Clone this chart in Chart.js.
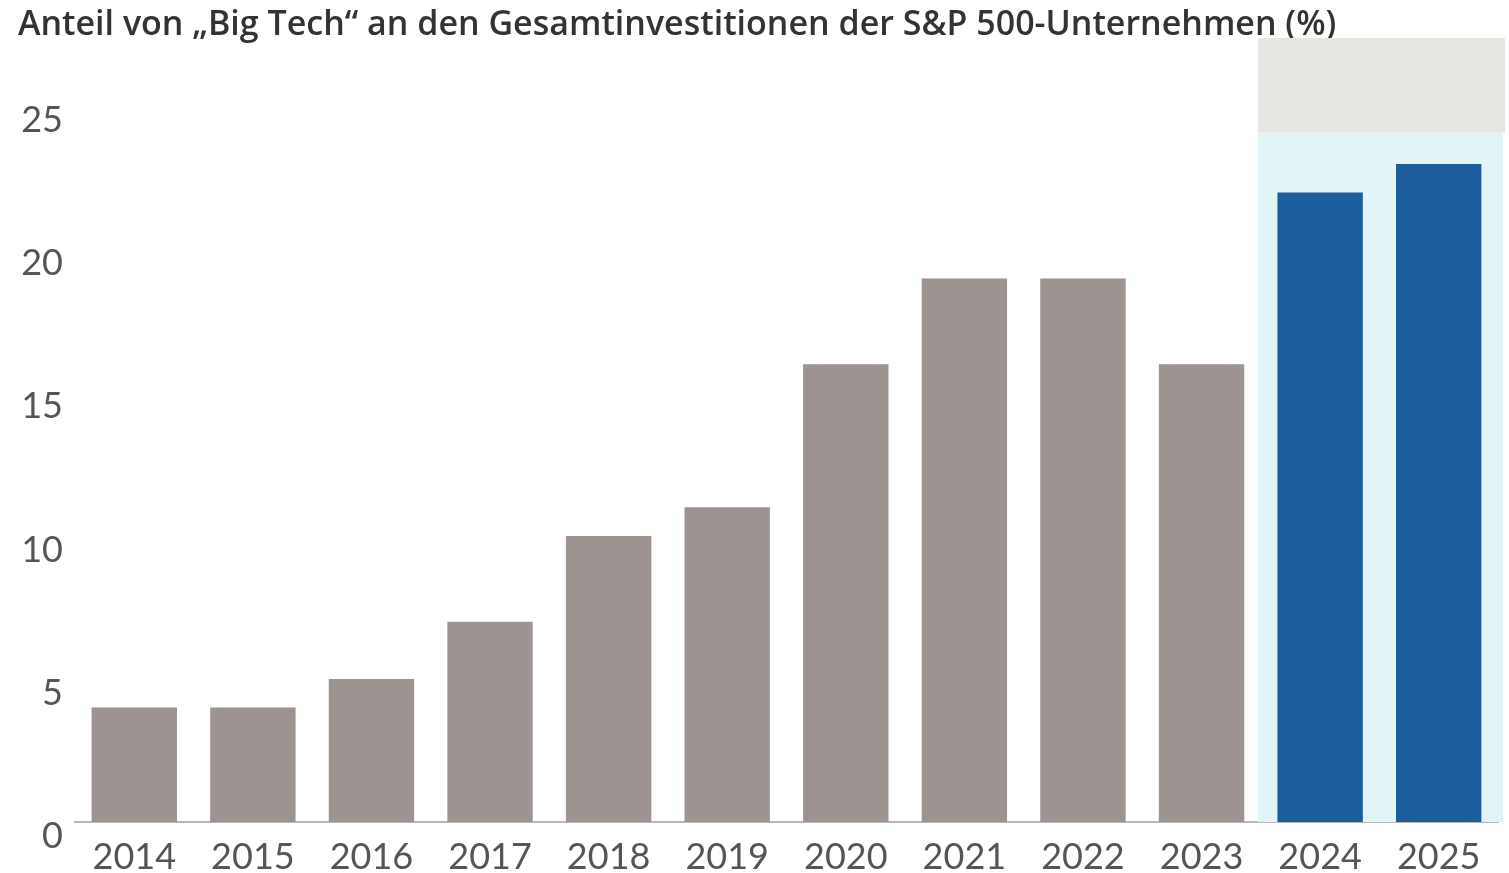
<!DOCTYPE html>
<html><head><meta charset="utf-8">
<script src="https://cdn.jsdelivr.net/npm/chart.js@4.4.1/dist/chart.umd.min.js"></script>
<style>html,body{margin:0;padding:0;background:#fff;}#wrap{width:1509px;height:873px;position:relative;}</style>
</head><body><div id="wrap"><canvas id="c" width="1509" height="873"></canvas></div>
<script>
const categories = ['2014','2015','2016','2017','2018','2019','2020','2021','2022','2023','2024','2025'];
const shareValues = [4, 4, 5, 7, 10, 11, 16, 19, 19, 16, 22, 23];
const yTicks = [0, 5, 10, 15, 20, 25];
const titleText = 'Anteil von \u201EBig Tech\u201C an den Gesamtinvestitionen der S&P 500-Unternehmen (%)';
const highlightFrom = 10; // index of first highlighted year

const barColors = categories.map((c, i) => i >= highlightFrom ? '#1b5e9b' : '#9d9390');

const highlightPlugin = {
  id: 'highlight',
  beforeDatasetsDraw(chart) {
    const {ctx, chartArea, scales: {x, y}} = chart;
    const half = (x.getPixelForValue(1) - x.getPixelForValue(0)) / 2;
    const left = x.getPixelForValue(highlightFrom) - half - 3;
    const right = chart.width - 6;
    const blueTop = y.getPixelForValue(24.1);
    ctx.save();
    ctx.fillStyle = '#e2f4f8';
    ctx.fillRect(left, blueTop, right - left, chartArea.bottom - blueTop);
    ctx.fillStyle = '#e6e6e3';
    ctx.fillRect(left, 38, chart.width - 4 - left, blueTop - 38);
    ctx.restore();
  }
};

new Chart(document.getElementById('c'), {
  type: 'bar',
  data: {
    labels: categories,
    datasets: [{ data: shareValues, backgroundColor: barColors, barPercentage: 0.72, categoryPercentage: 1.0, borderWidth: 0 }]
  },
  options: {
    responsive: false,
    animation: false,
    layout: { padding: { left: 18, right: 11, top: 0, bottom: 0 } },
    plugins: {
      legend: { display: false },
      tooltip: { enabled: false },
      title: {
        display: true, text: titleText, align: 'start', color: '#333333',
        font: { family: 'Open Sans', size: 34, weight: '600' },
        padding: { top: 5, bottom: 61 }
      }
    },
    scales: {
      x: {
        grid: { display: false, drawTicks: false },
        border: { display: true, color: '#b8b8b8', width: 2 },
        ticks: { color: '#555555', font: { family: 'Lato', size: 36 }, padding: 14, maxRotation: 0 },
        afterFit(scale) { scale.height = 51; }
      },
      y: {
        min: 0, max: 25,
        afterBuildTicks(scale) { scale.ticks = yTicks.map(v => ({ value: v })); },
        grid: { display: false, drawTicks: false },
        border: { display: false },
        ticks: { color: '#555555', font: { family: 'Lato', size: 36 }, padding: 12, labelOffset: 14 },
        afterFit(scale) { scale.width = 57; }
      }
    }
  },
  plugins: [highlightPlugin]
});
</script></body></html>
